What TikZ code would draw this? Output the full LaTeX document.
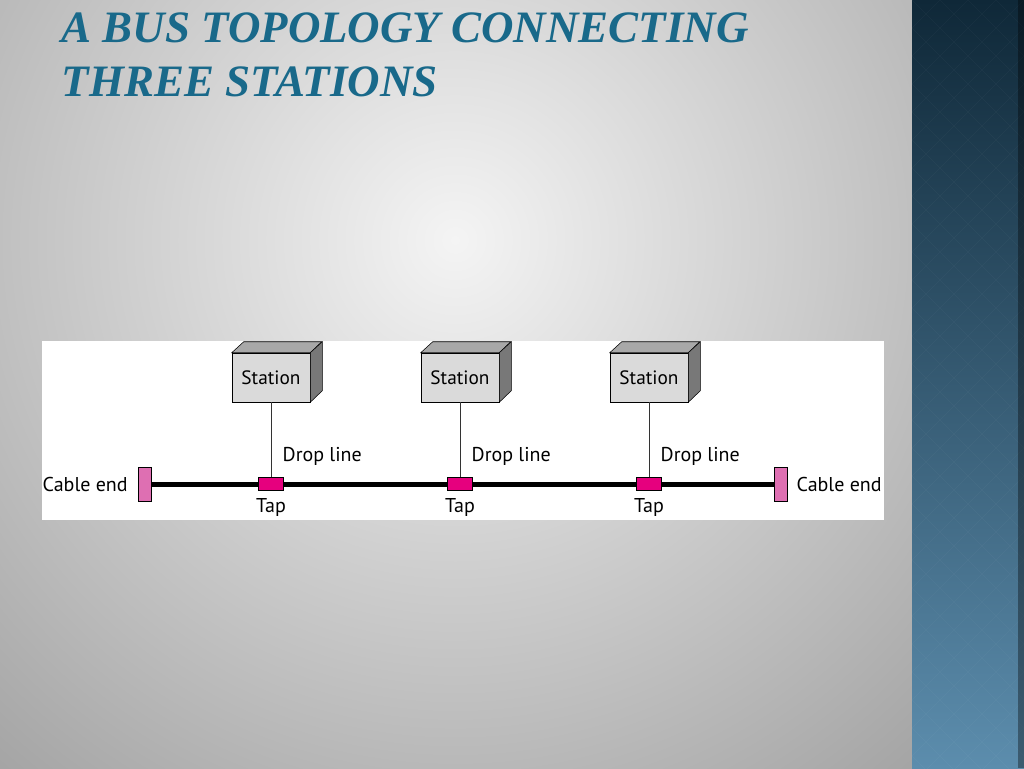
\documentclass[tikz,border=0pt]{standalone}
\usepackage{fontspec}
\setmainfont{Liberation Serif}
\newfontfamily\diagfont{PT Sans}
\usetikzlibrary{positioning}
\tikzset{>=latex}
\definecolor{titleblue}{HTML}{19698A}
\definecolor{stripdark}{HTML}{0F2838}
\definecolor{striplight}{HTML}{5C8DAD}
\definecolor{tapcol}{HTML}{E6007E}
\definecolor{endcol}{HTML}{DE6FB2}
\definecolor{boxfront}{HTML}{DADADA}
\definecolor{boxtop}{HTML}{A8A8A8}
\definecolor{boxside}{HTML}{787878}
\definecolor{bgin}{HTML}{F4F4F4}
\definecolor{bgout}{HTML}{969696}

\begin{document}
\begin{tikzpicture}[x=0.75pt, y=-0.75pt,
    station/.style={draw=black, fill=boxfront, minimum width=58.5pt, minimum height=36.75pt,
        inner sep=0pt, font=\diagfont\fontsize{14.5}{16}\selectfont},
    tap/.style={draw=black, fill=tapcol, minimum width=18.75pt, minimum height=9.75pt, inner sep=0pt},
    cableend/.style={draw=black, fill=endcol, minimum width=9.75pt, minimum height=25.5pt, inner sep=0pt},
    lbl/.style={font=\diagfont\fontsize{15}{17}\selectfont},
    title/.style={anchor=base west, text=titleblue, font=\fontsize{33.7}{40}\selectfont\bfseries\itshape}]
    \useasboundingbox (0,0) rectangle (1024,768);
    % background
    \begin{scope}
        \clip (0,0) rectangle (912,768);
        \shade[inner color=bgin, outer color=bgout] (455,240) circle (620pt);
    \end{scope}
    \shade[top color=stripdark, bottom color=striplight] (912,0) rectangle (1024,768);
    \begin{scope}
        \clip (912,0) rectangle (1024,768);
        \foreach \k in {-30,...,30}
            \draw[white, opacity=.03] (912+\k*28,0) -- ++(800,800) (912+\k*28,0) -- ++(-800,800);
    \end{scope}
    \fill[black, opacity=.35] (1018,0) rectangle (1024,768);
    % title
    \node[title] (title1) at (57,42) {A BUS TOPOLOGY CONNECTING};
    \node[title] (title2) at (57,96) {THREE STATIONS};
    % diagram
    \fill[white] (42,341) rectangle (884,520);
    \node[cableend] (ceL) at (144.5,484) {};
    \node[cableend] (ceR) at (780.5,484) {};
    \draw[line width=3.75pt] (ceL) -- (ceR);
    \node[lbl, left=4pt of ceL] (ceLtxt) {Cable end};
    \node[lbl, right=3.5pt of ceR] (ceRtxt) {Cable end};
    \foreach \i/\x in {1/271,2/460,3/649}{
        \node[station] (st\i) at (\x,377.5) {Station};
        \draw[fill=boxtop] (st\i.north west) -- ++(12,-11) -- ++(78,0) -- (st\i.north east) -- cycle;
        \draw[fill=boxside] (st\i.north east) -- ++(12,-11) -- ++(0,49) -- (st\i.south east) -- cycle;
        \node[tap] (tap\i) at (\x,483.5) {};
        \draw[line width=.75pt, black!80] (st\i.south) -- (tap\i.north);
        \node[lbl, anchor=west] (dl\i) at (\x+7,456) {Drop line};
        \node[lbl, below=3pt of tap\i] (tp\i) {Tap};
    }
\end{tikzpicture}
\end{document}
